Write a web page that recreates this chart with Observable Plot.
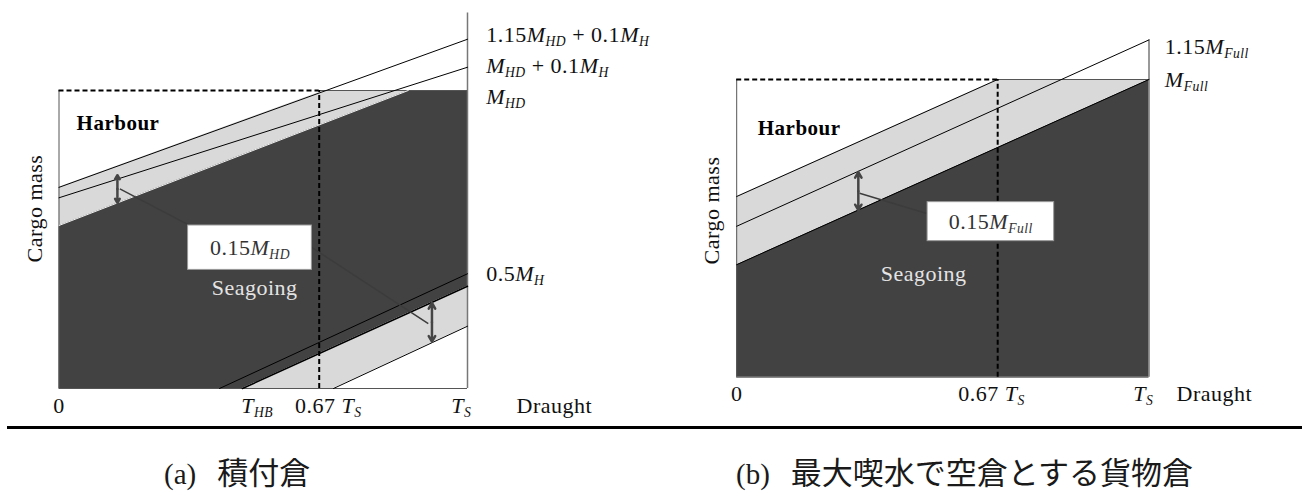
<!DOCTYPE html>
<html><head><meta charset="utf-8">
<script src="https://cdn.jsdelivr.net/npm/d3@7"></script>
<script src="https://cdn.jsdelivr.net/npm/@observablehq/plot@0.6"></script>
<style>
html,body{margin:0;padding:0;background:#fff;}
#root{position:relative;width:1306px;height:499px;overflow:hidden;background:#fff;}
#pa,#pb{position:absolute;top:0;}
#pa{left:0}
#pb{left:653px}
.rule{position:absolute;left:7px;width:1295px;top:426px;height:2.5px;background:#000}
.cap{position:absolute;top:453px;font-size:29px;line-height:36px;font-family:"Liberation Serif","Noto Sans CJK JP",serif;white-space:pre;color:#1a1a1a}
.cap .cj{margin-left:21px;font-family:"Noto Sans CJK JP",sans-serif;font-size:31px}
</style></head>
<body><div id="root">
<div id="pa"></div><div id="pb"></div>
<div class="rule"></div>
<div class="cap" id="capA" style="left:164px"></div>
<div class="cap" id="capB" style="left:736px"></div>
</div>
<script>
// ---------------- Panel (a) 積付倉 ----------------
const aTopLine  = [{x:0, y:0.675}, {x:1, y:1.172}];   // 1.15 M_HD + 0.1 M_H
const aMidLine  = [{x:0, y:0.640}, {x:1, y:1.078}];   // M_HD + 0.1 M_H
const aHalfLine = [{x:0.393, y:0}, {x:1, y:0.385}];   // 0.5 M_H
const aDarkLow  = [{x:0.449, y:0}, {x:1, y:0.343}];   // lower limit of seagoing area
const aBandLow  = [{x:0.672, y:0}, {x:1, y:0.209}];   // lower edge of light band
const aDarkTop  = [{x:0, y:0.547}, {x:0.855, y:1}];
const aDark     = [{x:0, lo:0, hi:0.547}, {x:0.449, lo:0, hi:0.785}, {x:0.855, lo:0.253, hi:1}, {x:1, lo:0.343, hi:1}];
const aBandUp   = [{x:0, lo:0.547, hi:0.675}, {x:0.65, lo:0.892, hi:1}, {x:0.855, lo:1, hi:1}];
const aBandDown = [{x:0.449, lo:0, hi:0}, {x:0.672, lo:0, hi:0.139}, {x:1, lo:0.209, hi:0.343}];
const aLimitX   = 0.637;       // drawn position of 0.67 T_S
const aRightTop = 1.26;
const aArrows   = [{x:0.143, y1:0.623, y2:0.716}, {x:0.913, y1:0.287, y2:0.157}];
const aTickValues = [0, 0.485, 0.659, 0.985];
const aTickLabels = ["0", "*T*_{HB}", "0.67 *T*_{S}", "*T*_{S}"];
const aSeriesLabels = ["1.15*M*_{HD} + 0.1*M*_{H}", "*M*_{HD} + 0.1*M*_{H}", "*M*_{HD}", "0.5*M*_{H}"];
const aSeriesLabelY = [1.185, 1.084, 0.977, 0.386];
const aBoxLabel = "0.15*M*_{HD}";

// ---------------- Panel (b) 最大喫水で空倉とする貨物倉 ----------------
const bTopLine = [{x:0, y:0.607}, {x:0.633, y:1}];
const bMidLine = [{x:0, y:0.507}, {x:1, y:1.133}];   // 1.15 M_Full
const bLowLine = [{x:0, y:0.378}, {x:1, y:1}];
const bDark    = [{x:0, lo:0, hi:0.378}, {x:1, lo:0, hi:1}];
const bBand    = [{x:0, lo:0.378, hi:0.607}, {x:0.633, lo:0.772, hi:1}, {x:1, lo:1, hi:1}];
const bLimitX  = 0.633;
const bRightTop = 1.133;
const bArrows  = [{x:0.295, y1:0.561, y2:0.689}];
const bTickValues = [0, 0.618, 0.986];
const bTickLabels = ["0", "0.67 *T*_{S}", "*T*_{S}"];
const bSeriesLabels = ["1.15*M*_{Full}", "*M*_{Full}"];
const bSeriesLabelY = [1.108, 0.997];
const bBoxLabel = "0.15*M*_{Full}";

const captionTags = ["(a)", "(b)"];
const captions = ["積付倉", "最大喫水で空倉とする貨物倉"];
const axisTitle = "Draught", yTitle = "Cargo mass";

const SERIF = "'Liberation Serif', 'Times New Roman', serif";
const DARK = "#424242", LIGHT = "#d9d9d9";
const FS = 22;

const NS = "http://www.w3.org/2000/svg";
function richText(el, shift) {
  const s = el.textContent;
  if (!/[*_]/.test(s)) return;
  el.textContent = "";
  const re = /\*([^*]+)\*|_\{([^}]+)\}|([^*_]+)/g;
  let m, down = false;
  while ((m = re.exec(s))) {
    const t = document.createElementNS(NS, "tspan");
    let dy = 0;
    if (m[2] !== undefined) {
      t.textContent = m[2];
      t.setAttribute("font-style", "italic");
      t.setAttribute("font-size", "62%");
      if (!down) { dy = shift; down = true; }
    } else {
      t.textContent = m[1] !== undefined ? m[1] : m[3];
      if (m[1] !== undefined) t.setAttribute("font-style", "italic");
      if (down) { dy = -shift; down = false; }
    }
    if (dy) t.setAttribute("dy", dy);
    el.appendChild(t);
  }
}

function panel(c) {
  const tickMap = new Map(c.tickValues.map((v, i) => [v, c.tickLabels[i]]));
  const marks = [
    Plot.areaY(c.dark, {x:"x", y1:"lo", y2:"hi", fill:DARK}),
    ...c.bands.map(b => Plot.areaY(b, {x:"x", y1:"lo", y2:"hi", fill:LIGHT})),
    Plot.ruleX([0], {y1:0, y2:1, stroke:"#555", strokeWidth:1}),
    Plot.ruleY([0], {x1:0, x2:1, stroke:"#555", strokeWidth:1}),
    Plot.ruleX([1], {y1:0, y2:c.rightTop, stroke:"#777", strokeWidth:1.5}),
    Plot.ruleY([1], {x1:c.limitX, x2:1, stroke:"#555", strokeWidth:1}),
    ...c.lines.map(l => Plot.line(l.data, {x:"x", y:"y", stroke:l.s || "#000", strokeWidth:l.w || 1})),
    Plot.ruleY([1], {x1:0, x2:c.limitX, stroke:"#000", strokeWidth:2, strokeDasharray:"5,3"}),
    Plot.ruleX([c.limitX], {y1:0, y2:1, stroke:"#000", strokeWidth:2, strokeDasharray:"5,3"}),
    Plot.link(c.leaders, {x1:"x1", y1:"y1", x2:"x2", y2:"y2", stroke:"#3c3c3c", strokeWidth:1.5}),
    Plot.rect([c.boxLabel], {x1:c.box[0], x2:c.box[1], y1:c.box[2], y2:c.box[3], fill:"#fff", stroke:"#999", strokeWidth:1}),
    Plot.text([c.boxLabel], {x:(c.box[0]+c.box[1])/2, y:(c.box[2]+c.box[3])/2, text:d=>d, fontSize:FS, fill:"#333"}),
    Plot.arrow(c.arrows, {x1:"x", x2:"x", y1:d=>(d.y1+d.y2)/2, y2:"y1", stroke:"#454545", strokeWidth:2.5, headLength:8}),
    Plot.arrow(c.arrows, {x1:"x", x2:"x", y1:d=>(d.y1+d.y2)/2, y2:"y2", stroke:"#454545", strokeWidth:2.5, headLength:8}),
    Plot.text(["Harbour"], {x:c.harbour[0], y:c.harbour[1], text:d=>d, textAnchor:"start", fontWeight:"bold", fontSize:21, fill:"#000"}),
    Plot.text(["Seagoing"], {x:c.seagoing[0], y:c.seagoing[1], text:d=>d, fontSize:FS, fill:"#e4e4e4"}),
    Plot.text([yTitle], {x:c.ytitle[0], y:c.ytitle[1], text:d=>d, rotate:-90, fontSize:FS, fill:"#111"}),
    Plot.axisX(c.tickValues, {tickSize:0, tickPadding:c.pad, tickFormat:d=>tickMap.get(d), fontSize:FS, label:null, fill:"#111"}),
    Plot.text([axisTitle], {x:1, y:0, dx:c.draughtDx, dy:c.pad, lineAnchor:"top", textAnchor:"start", text:d=>d, fontSize:FS, fill:"#111"}),
    Plot.text(c.seriesLabels, {x:1, y:(d,i)=>c.seriesLabelY[i], dx:c.labelDx, textAnchor:"start", text:d=>d, fontSize:FS, fill:"#111"})
  ];
  const svg = Plot.plot({
    width:653, height:427,
    marginLeft:c.m[0], marginRight:c.m[1], marginTop:c.m[2], marginBottom:c.m[3],
    x:{domain:[0,1], axis:null}, y:{domain:[0,1], axis:null},
    style:{fontFamily:SERIF, fontSize:FS+"px", letterSpacing:"0.5px", background:"transparent", overflow:"visible", color:"#111"},
    marks
  });
  svg.querySelectorAll("text").forEach(t => richText(t, 4));
  return svg;
}

document.getElementById("pa").appendChild(panel({
  m:[58.5, 186, 90, 39],
  dark:aDark, bands:[aBandUp, aBandDown],
  lines:[{data:aTopLine}, {data:aMidLine}, {data:aDarkTop, s:"#f2f2f2", w:1}, {data:aHalfLine}, {data:aDarkLow, w:1.6}, {data:aBandLow}],
  limitX:aLimitX, rightTop:aRightTop,
  leaders:[{x1:0.149, y1:0.670, x2:0.33, y2:0.54}, {x1:0.60, y1:0.49, x2:0.904, y2:0.218}],
  box:[0.316, 0.619, 0.398, 0.547], boxLabel:aBoxLabel,
  arrows:aArrows,
  harbour:[0.043, 0.889], seagoing:[0.479, 0.336], ytitle:[-0.06, 0.604],
  tickValues:aTickValues, tickLabels:aTickLabels, pad:9, draughtDx:49,
  seriesLabels:aSeriesLabels, seriesLabelY:aSeriesLabelY, labelDx:18.7
}));

document.getElementById("pb").appendChild(panel({
  m:[83.2, 157.5, 79, 50.3],
  dark:bDark, bands:[bBand],
  lines:[{data:bTopLine}, {data:bMidLine}, {data:bLowLine}],
  limitX:bLimitX, rightTop:bRightTop,
  leaders:[{x1:0.298, y1:0.618, x2:0.463, y2:0.549}],
  box:[0.463, 0.770, 0.457, 0.588], boxLabel:bBoxLabel,
  arrows:bArrows,
  harbour:[0.051, 0.837], seagoing:[0.4535, 0.348], ytitle:[-0.059, 0.56],
  tickValues:bTickValues, tickLabels:bTickLabels, pad:8.5, draughtDx:27.5,
  seriesLabels:bSeriesLabels, seriesLabelY:bSeriesLabelY, labelDx:15.8
}));

["capA", "capB"].forEach((id, i) => {
  const el = document.getElementById(id);
  const tag = document.createElement("span"); tag.textContent = captionTags[i];
  const cj = document.createElement("span"); cj.className = "cj"; cj.textContent = captions[i];
  el.appendChild(tag); el.appendChild(cj);
});
</script>
</body></html>
